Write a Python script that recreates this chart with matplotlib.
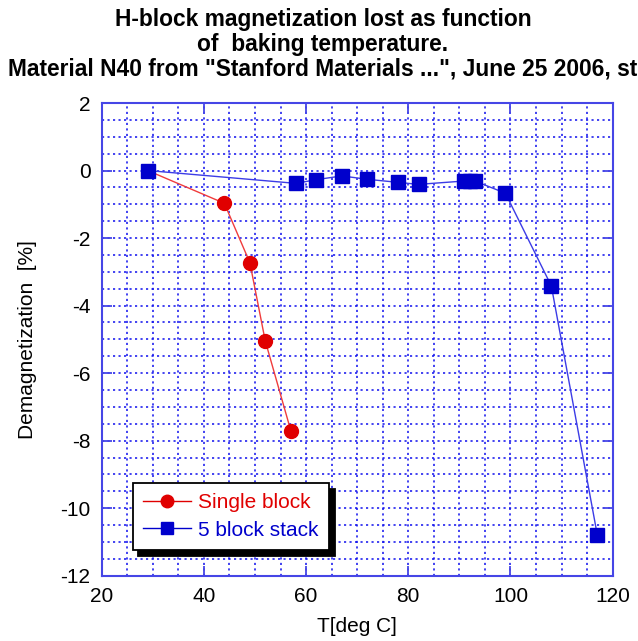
import numpy as np
import matplotlib.pyplot as plt
from matplotlib.ticker import MultipleLocator

# Single block: baking temperature [deg C] vs demagnetization [%]
single_T = [29, 44, 49, 52, 57]
single_d = [0.0, -0.97, -2.73, -5.04, -7.70]

# 5 block stack
stack_T = [29, 58, 62, 67, 72, 78, 82, 91, 92, 93, 99, 108, 117]
stack_d = [0.0, -0.38, -0.27, -0.16, -0.26, -0.35, -0.41,
           -0.31, -0.31, -0.31, -0.67, -3.42, -10.8]

title = ('H-block magnetization lost as function\n'
         'of  baking temperature.\n'
         'Material N40 from "Stanford Materials ...", June 25 2006, st')

plt.rcParams['font.family'] = ['Liberation Sans', 'DejaVu Sans']
plt.rcParams['axes.unicode_minus'] = False

edge = '#4646e6'
grid_c = '#1010ee'

fig = plt.figure(figsize=(6.38, 6.41), dpi=100)
ax = fig.add_axes([0.1594, 0.1019, 0.8009, 0.7374])

ax.plot(single_T, single_d, '-', color='#f03c3c', lw=1.0, zorder=3)
ax.plot(single_T[1:], single_d[1:], 'o', color='#e00000', ms=10,
        mec='#e00000', zorder=4)
ax.plot(stack_T, stack_d, '-', color='#3c3ce6', lw=1.0, zorder=3)
ax.plot(stack_T, stack_d, 's', color='#0000cc', ms=10, mec='#0000cc',
        zorder=5)

# proxy handles for legend
h1, = ax.plot([], [], '-o', color='#e00000', ms=9, lw=1.0)
h2, = ax.plot([], [], '-s', color='#0000cc', ms=8, lw=1.0)

ax.set_xlim(20, 120)
ax.set_ylim(-12, 2)
ax.xaxis.set_major_locator(MultipleLocator(20))
ax.xaxis.set_minor_locator(MultipleLocator(5))
ax.yaxis.set_major_locator(MultipleLocator(2))
ax.yaxis.set_minor_locator(MultipleLocator(0.5))

ax.grid(which='both', color=grid_c, ls=(0, (1.4, 2.2)), lw=1.1)
ax.set_axisbelow(True)
ax.tick_params(which='major', direction='in', length=7, width=1.3,
               color=edge, top=True, right=True, labelsize=15, pad=8)
ax.tick_params(which='minor', length=0)
for s in ax.spines.values():
    s.set_color(edge)
    s.set_linewidth(1.5)

ax.set_xlabel('T[deg C]', fontsize=15, labelpad=8)
ax.set_ylabel('Demagnetization  [%]', fontsize=15, labelpad=17)

fig.text(0.506, 0.987, title, ha='center', va='top', fontsize=16.4,
         fontweight='bold', linespacing=1.1)

leg = ax.legend([h1, h2], ['Single block', '5 block stack'],
                loc='upper left', bbox_to_anchor=(0.061, 0.196),
                fontsize=15, fancybox=False, framealpha=1,
                edgecolor='black', borderpad=0.5, handlelength=2.3,
                handletextpad=0.35, labelspacing=0.4, borderaxespad=0,
                shadow={'color': 'black', 'alpha': 1, 'shade': 1.0,
                        'ox': 4, 'oy': -4})
leg.get_frame().set_linewidth(1.3)
leg.texts[0].set_color('#e00000')
leg.texts[1].set_color('#0000cc')

fig.savefig('out.png', dpi=100)
